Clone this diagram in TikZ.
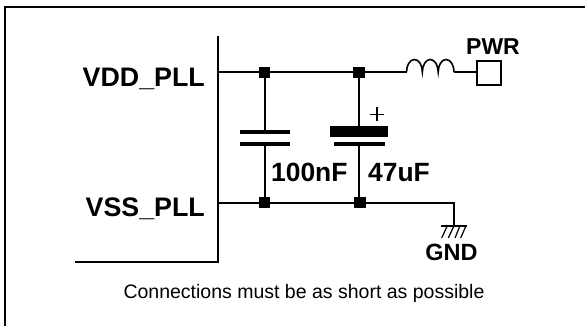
\documentclass[tikz,border=0pt]{standalone}
\usepackage{fontspec}
\setmainfont{Liberation Sans}
\tikzset{
  wire/.style={line width=1.9pt},
  plate/.style={line width=4pt},
  junction/.style={fill=black,draw=none,minimum size=11.5pt,inner sep=0pt,rectangle},
  pinlabel/.style={font=\fontsize{26.8}{30}\selectfont\bfseries,inner sep=0pt,anchor=base east},
  vallabel/.style={font=\fontsize{26.4}{30}\selectfont\bfseries,inner sep=0pt,anchor=base west},
  smalllabel/.style={font=\fontsize{23}{26}\selectfont\bfseries,inner sep=0pt,anchor=base},
}
\begin{document}
\begin{tikzpicture}[x=1pt,y=-1pt]
\useasboundingbox (0,0) rectangle (585,326);
\fill[white] (0,0) rectangle (585,326);
\draw[line width=2pt] (5,326) -- (5,7) -- (585,7);
% chip outline
\coordinate (ct) at (218,36);
\coordinate (cc) at (218,262);
\coordinate (cl) at (75,262);
\draw[wire] (ct) -- (cc) -- (cl);
\node[pinlabel] at (205,87) {VDD\_PLL};
\node[pinlabel] at (205,216) {VSS\_PLL};
% nets
\coordinate (vdd) at (218,72);
\coordinate (vss) at (218,203);
\node[junction] (j1) at (264.5,72.5) {};
\node[junction] (j2) at (359,72.5) {};
\node[junction] (j3) at (264.5,202.5) {};
\node[junction] (j4) at (360,202.5) {};
\coordinate (lin) at (406.5,72);
\coordinate (lout) at (454,72);
\node[draw,line width=1.9pt,minimum size=24.5pt,inner sep=0pt] (pwr) at (489,73) {};
\coordinate (gt) at (454,203);
\coordinate (gb) at (454,226);
\draw[wire] (vdd) -- (lin);
\draw[wire] (lout) -- (pwr.west |- lout);
\draw[line width=1.6pt] (lin) arc[start angle=180,end angle=360,x radius=7.92,y radius=12.5]
  arc[start angle=180,end angle=360,x radius=7.92,y radius=12.5]
  arc[start angle=180,end angle=360,x radius=7.92,y radius=12.5];
\draw[wire] (vss) -- (gt) -- (gb);
% 100nF
\coordinate (c1a) at (265,132);
\coordinate (c1b) at (265,144);
\draw[wire] (265,72) -- (c1a);
\draw[wire] (c1b) -- (265,203);
\draw[plate] (240,132) -- (290,132);
\draw[plate] (240,144) -- (290,144);
% 47uF
\coordinate (c2a) at (359,131.3);
\coordinate (c2b) at (359,144);
\draw[wire] (359,72) -- (c2a);
\draw[wire] (c2b) -- (359,203);
\draw[line width=10.5pt] (330,131.3) -- (388,131.3);
\draw[plate] (334,144) -- (385,144);
\draw[line width=1.5pt] (370,114.3) -- (384,114.3) (377,107) -- (377,121);
\node[vallabel] at (271,181) {100nF};
\node[vallabel] at (368,181) {47uF};
\node[smalllabel] at (493,55) {PWR};
% ground
\draw[wire] (441,226) -- (466.7,226);
\draw[line width=1.2pt] (447.3,225.7) -- (441.7,238) (454,225.7) -- (448.3,238) (460,225.7) -- (455,238) (466,225.7) -- (460.7,238);
\node[font=\fontsize{23.5}{26}\selectfont\bfseries,inner sep=0pt,anchor=base] at (451.5,260) {GND};
\node[font=\fontsize{19.5}{22}\selectfont,inner sep=0pt,anchor=base] at (304,298) {Connections must be as short as possible};
\end{tikzpicture}
\end{document}
